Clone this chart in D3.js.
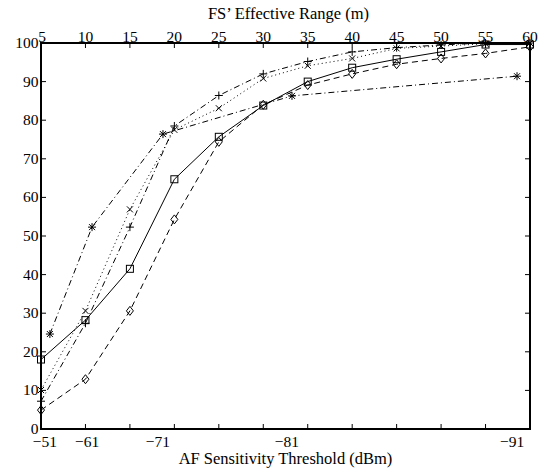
<!DOCTYPE html>
<html><head><meta charset="utf-8">
<script src="https://cdn.jsdelivr.net/npm/d3@7"></script>
<style>
html,body{margin:0;padding:0;background:#fff;}
svg{display:block;}
text{font-family:"Liberation Serif","Times New Roman",serif;fill:#000;}
</style></head>
<body>
<svg id="chart" width="543" height="474"></svg>
<script>
// ---- data ----
const rangesM = [5,10,15,20,25,30,35,40,45,50,55,60];
const squareVals  = [18.0, 28.2, 41.5, 64.7, 75.7, 83.8, 90.0, 93.6, 95.8, 97.7, 99.6, 99.6];
const diamondVals = [4.9, 12.9, 30.6, 54.3, 74.4, 84.0, 89.1, 92.0, 94.5, 96.0, 97.3, 99.0];
const crossVals   = [10.1, 30.6, 56.9, 77.5, 83.1, 90.8, 94.1, 96.0, 98.6, 99.2, 99.8, 100];
const plusVals    = [7.2, 27.4, 52.3, 78.5, 86.4, 92.0, 95.2, 97.7, 98.8, 99.5, 100, 100];
const thresholds  = [-51, -61, -71, -81, -91];          // dBm
const thresholdRangeM = [6.0, 10.74, 18.72, 33.23, 58.54]; // equivalent range (m)
const starVals    = [24.6, 52.3, 76.4, 86.3, 91.4];
const yTicks = [0,10,20,30,40,50,60,70,80,90,100];
const topTicks = rangesM;
const topTitle = "FS\u2019 Effective Range (m)";
const bottomTitle = "AF Sensitivity Threshold (dBm)";

// ---- layout ----
const svg = d3.select("#chart");
const L = 41, R = 530, T = 43, B = 429;
const x = d3.scaleLinear().domain([5,60]).range([L,R]);
const y = d3.scaleLinear().domain([0,100]).range([B,T]);
const thrToRange = d3.scaleLinear().domain(thresholds).range(thresholdRangeM);
const xb = v => x(thrToRange(v));

const fs = 15.5, fsTitle = 16.5, tickLen = 5;

// box
svg.append("rect").attr("x",L).attr("y",T).attr("width",R-L).attr("height",B-T)
  .attr("fill","none").attr("stroke","#000").attr("stroke-width",2);

// ticks
const tg = svg.append("g").attr("stroke","#000").attr("stroke-width",1);
topTicks.forEach(t=>{
  tg.append("line").attr("x1",x(t)).attr("x2",x(t)).attr("y1",T).attr("y2",T+tickLen);
  tg.append("line").attr("x1",x(t)).attr("x2",x(t)).attr("y1",B).attr("y2",B-tickLen);
});
yTicks.forEach(t=>{
  tg.append("line").attr("x1",L).attr("x2",L+tickLen).attr("y1",y(t)).attr("y2",y(t));
  tg.append("line").attr("x1",R).attr("x2",R-tickLen).attr("y1",y(t)).attr("y2",y(t));
});

// tick labels
svg.append("g").selectAll("text").data(topTicks).join("text")
  .attr("x",d=>x(d)+(d===5?1:0)).attr("y",T-1.5).attr("text-anchor","middle").attr("font-size",fs).text(d=>d);
svg.append("g").selectAll("text").data(yTicks).join("text")
  .attr("x",L-2.5).attr("y",d=>y(d)+5).attr("text-anchor","end").attr("font-size",fs).text(d=>d);
svg.append("g").selectAll("text").data(thresholds).join("text")
  .attr("x",d=>xb(d)-5).attr("y",B+18).attr("text-anchor","middle").attr("font-size",fs)
  .text(d=>"\u2212"+Math.abs(d));

svg.append("text").attr("x",(L+R)/2+3).attr("y",19).attr("text-anchor","middle").attr("font-size",fsTitle).text(topTitle);
svg.append("text").attr("x",(L+R)/2).attr("y",464).attr("text-anchor","middle").attr("font-size",fsTitle).text(bottomTitle);

// series
const line = d3.line();
function drawSeries(xs, vals, dash, marker){
  const pts = xs.map((d,i)=>[d, y(vals[i])]);
  svg.append("path").attr("d",line(pts)).attr("fill","none").attr("stroke","#000")
    .attr("stroke-width",1).attr("stroke-dasharray",dash);
  const g = svg.append("g").attr("fill","none").attr("stroke","#000").attr("stroke-width",1);
  pts.forEach(p=>marker(g,p[0],p[1]));
}
const s = 3.5;
const mSquare = (g,cx,cy)=>g.append("rect").attr("x",cx-s).attr("y",cy-s).attr("width",2*s).attr("height",2*s);
const mDiamond = (g,cx,cy)=>g.append("path").attr("d",`M${cx},${cy-4.5}L${cx+3.5},${cy}L${cx},${cy+4.5}L${cx-3.5},${cy}Z`);
const mCross = (g,cx,cy)=>g.append("path").attr("d",`M${cx-3},${cy-3}L${cx+3},${cy+3}M${cx-3},${cy+3}L${cx+3},${cy-3}`);
const mPlus = (g,cx,cy)=>g.append("path").attr("d",`M${cx-4},${cy}L${cx+4},${cy}M${cx},${cy-4}L${cx},${cy+4}`);
const mStar = (g,cx,cy)=>g.append("path").attr("d",`M${cx-4},${cy}L${cx+4},${cy}M${cx},${cy-4}L${cx},${cy+4}M${cx-3},${cy-3}L${cx+3},${cy+3}M${cx-3},${cy+3}L${cx+3},${cy-3}`);

const xr = rangesM.map(d=>x(d));
drawSeries(xr, squareVals, null, mSquare);
drawSeries(xr, diamondVals, "6,4", mDiamond);
drawSeries(xr, crossVals, "1,3", mCross);
drawSeries(xr, plusVals, "6,3,1,3", mPlus);
drawSeries(thresholds.map(xb), starVals, "6,3,1,3", mStar);
</script>
</body></html>
